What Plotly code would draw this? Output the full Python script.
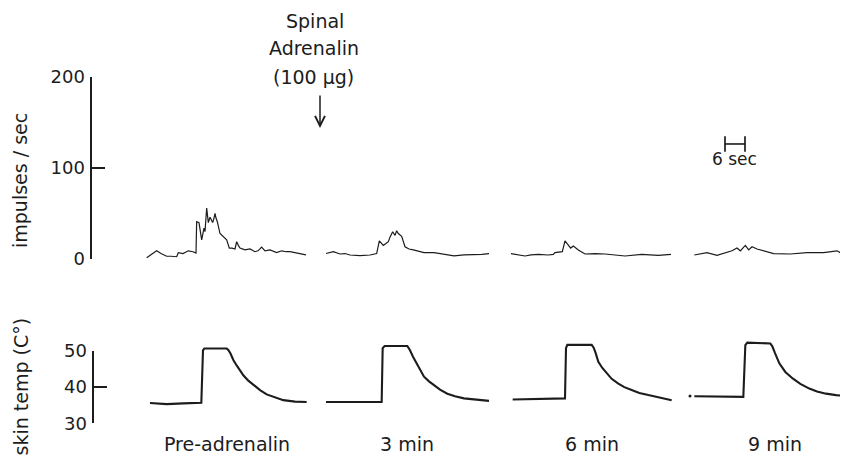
import plotly.graph_objects as go

# ---------------- data ----------------
SEGMENT_LABELS = ["Pre-adrenalin", "3 min", "6 min", "9 min"]
SEGMENT_START_S = [0.0, 54.0, 109.5, 164.5]   # recording start of each sweep (s)

# impulses / sec, time in s from the start of each sweep
imp_t_pre = [0.2, 1.5, 3.2, 4.5, 6.2, 7.5, 9.2, 9.7, 11.1, 12.7, 14.1, 15.0, 15.2, 15.9,
             16.7, 17.4, 17.7, 18.2, 18.5, 18.7, 19.2, 19.6, 20.0, 20.4, 20.7, 21.0, 21.4,
             22.2, 23.2, 24.2, 25.0, 25.8, 26.7, 27.2, 27.7, 28.2, 29.7, 31.2, 32.7, 33.6,
             34.7, 35.7, 37.2, 39.2, 40.7, 42.0, 43.2, 45.6, 48.0]
imp_v_pre = [1.5, 5, 9, 6, 3, 3, 2.5, 7, 6, 9, 8, 6.5, 41, 40,
             21, 34, 30, 56, 48, 40, 46, 43, 40, 45, 50, 45, 41,
             28, 24, 21, 12, 12, 11, 19, 15, 12, 10, 11, 8, 9,
             13, 9, 10, 7, 9, 8, 8, 6, 4.5]

imp_t_3 = [0, 2.2, 4.2, 5.7, 7.2, 10.2, 13.2, 15.2, 16.0, 17.2, 18.0, 18.7, 19.2, 20.0,
           20.7, 21.2, 21.7, 22.7, 23.7, 24.9, 26.2, 27.6, 29.4, 32.4, 35.4, 38.4, 41.4,
           44.4, 46.8, 48.9]
imp_v_3 = [6, 8, 5.5, 6, 4.4, 3.6, 4.4, 6, 20, 15, 17, 19, 24, 30,
           26, 31, 28, 25, 13.5, 11, 10, 9, 7, 7, 5, 3.5, 4.5,
           4.4, 5, 6]

imp_t_6 = [0, 2.2, 4.2, 6.0, 8.2, 11.2, 12.7, 13.2, 15.4, 16.2, 17.2, 17.9, 18.7, 20.2,
           22.2, 25.2, 28.2, 31.2, 34.2, 39.2, 42.0, 44.2, 48.0]
imp_v_6 = [6, 4.4, 3.3, 4.5, 5, 4.4, 5, 7, 8, 20, 15, 12, 14.3, 10,
           5.5, 6, 5.5, 4, 3.3, 5, 4.5, 4, 5]

imp_t_9 = [0, 3.8, 6.8, 9.8, 11.3, 12.8, 13.8, 15.3, 16.3, 17.3, 18.8, 23.8, 28.8,
           33.8, 38.8, 42.8, 43.8, 46.0]
imp_v_9 = [4.4, 7, 4, 7, 9, 12, 9, 15, 10, 13.5, 11, 6, 5.5,
           7, 7, 9, 7, 8]

# skin temperature (deg C), time in s from the start of each sweep
temp_t_pre = [1.2, 6.2, 11.2, 16.6, 17.1, 17.5, 24.2, 24.75, 25.35, 26.2, 27.2, 28.2, 29.2,
              30.7, 32.2, 34.2, 36.2, 38.7, 41.2, 44.7, 48.2]
temp_v_pre = [35.6, 35.3, 35.5, 35.7, 50.2, 50.7, 50.7, 50.2, 49.3, 47.5, 46.0, 44.7, 43.3,
              41.8, 40.6, 39.2, 38.0, 37.1, 36.4, 36.0, 35.9]

temp_t_3 = [0, 10, 16.7, 17.0, 17.6, 24.4, 25.2, 26.1, 27.2, 28.2, 29.4, 30.9, 32.4, 34.2,
            36.4, 38.7, 41.4, 45.0, 48.9]
temp_v_3 = [35.9, 35.9, 35.9, 50.8, 51.4, 51.4, 50.2, 48.4, 46.6, 44.8, 42.9, 41.6, 40.6, 39.3,
            38.2, 37.5, 36.9, 36.5, 36.2]

temp_t_6 = [0.5, 8.0, 16.2, 16.5, 16.9, 24.2, 24.8, 25.4, 26.2, 27.4, 28.7, 30.2, 32.2, 34.0,
            36.2, 38.5, 41.2, 44.5, 48.2]
temp_v_6 = [36.6, 36.7, 36.9, 50.8, 51.7, 51.7, 50.9, 49.4, 47.0, 45.3, 43.8, 42.3, 41.0, 40.0,
            39.2, 38.4, 37.8, 37.2, 36.4]

temp_t_9 = [0, 7.0, 14.7, 15.3, 15.9, 22.8, 23.4, 24.2, 25.5, 27.3, 29.5, 31.8, 34.5, 36.8,
            39.5, 42.5, 46.0]
temp_v_9 = [37.5, 37.4, 37.3, 51.6, 52.3, 52.1, 51.3, 49.4, 46.6, 44.2, 42.4, 40.9, 39.6, 38.8,
            38.2, 37.8, 37.5]
temp_speck_t_9 = [-1.3]      # isolated ink dot before the 9 min sweep
temp_speck_v_9 = [37.55]

IMP_TICKS = [0, 100, 200]
TEMP_TICKS = [30, 40, 50]
SCALE_BAR_S = 6

# ---------------- styling / layout ----------------
INK = "#1c1c1c"
FONT = "DejaVu Sans"
BODY = 8                       # page body margin of the html page
FW, FH = 848 - 2 * BODY, 466 - 2 * BODY


def paper_x(rx):
    return (rx - BODY) / FW


def paper_y(ry):
    return 1 - (ry - BODY) / FH


impulse_segments = [(imp_t_pre, imp_v_pre), (imp_t_3, imp_v_3),
                    (imp_t_6, imp_v_6), (imp_t_9, imp_v_9)]
temp_segments = [(temp_t_pre, temp_v_pre), (temp_t_3, temp_v_3),
                 (temp_t_6, temp_v_6), (temp_t_9, temp_v_9)]

fig = go.Figure()

for start, (t, v) in zip(SEGMENT_START_S, impulse_segments):
    fig.add_trace(go.Scatter(x=[start + s for s in t], y=v, mode="lines",
                             line=dict(color=INK, width=1.2), yaxis="y",
                             hoverinfo="skip", showlegend=False))

for start, (t, v) in zip(SEGMENT_START_S, temp_segments):
    fig.add_trace(go.Scatter(x=[start + s for s in t], y=v, mode="lines",
                             line=dict(color=INK, width=2.1), yaxis="y3",
                             hoverinfo="skip", showlegend=False))

fig.add_trace(go.Scatter(x=[SEGMENT_START_S[3] + s for s in temp_speck_t_9], y=temp_speck_v_9,
                         mode="markers", marker=dict(color=INK, size=3), yaxis="y3",
                         hoverinfo="skip", showlegend=False))

# register the temperature display axis
fig.add_trace(go.Scatter(x=[None], y=[None], yaxis="y2", mode="lines",
                         hoverinfo="skip", showlegend=False))

# 6 s scale bar
bar_x0 = 173.7
bar_y = 126.4
fig.add_trace(go.Scatter(x=[bar_x0, bar_x0 + SCALE_BAR_S], y=[bar_y, bar_y],
                         mode="lines+markers", yaxis="y",
                         line=dict(color=INK, width=1.6),
                         marker=dict(symbol="line-ns", size=11,
                                     line=dict(color=INK, width=1.7)),
                         hoverinfo="skip", showlegend=False))

px_per_s = 10 / 3.0
t0_px = 146
x_lo = (BODY - t0_px) / px_per_s
x_hi = (BODY + FW - t0_px) / px_per_s

axis_common = dict(ticks="inside", ticklen=13, tickwidth=2, tickcolor=INK,
                   showline=True, linewidth=2, linecolor=INK, showgrid=False,
                   zeroline=False, anchor="free", automargin=False,
                   tickfont=dict(family=FONT, size=18, color=INK),
                   ticklabelstandoff=1)

fig.update_layout(
    width=FW, height=FH,
    margin=dict(l=0, r=0, t=0, b=0, pad=0, autoexpand=False),
    paper_bgcolor="white", plot_bgcolor="rgba(0,0,0,0)",
    showlegend=False,
    xaxis=dict(domain=[0, 1], range=[x_lo, x_hi], visible=False, anchor="y",
               automargin=False),
    yaxis=dict(domain=[paper_y(259), paper_y(77)], range=[0, 200],
               tickvals=IMP_TICKS, position=paper_x(90.5), **axis_common),
    yaxis2=dict(domain=[paper_y(423.3), paper_y(351)], range=[30, 50],
                tickvals=TEMP_TICKS, position=paper_x(92.5), **axis_common),
    yaxis3=dict(domain=[0, 1],
                range=[50 - (BODY + FH - 351) / 3.615, 50 + (351 - BODY) / 3.615],
                visible=False, anchor="x", automargin=False),
)

title_font = dict(family=FONT, size=19, color=INK)
ann_font = dict(family=FONT, size=19, color=INK)
annotations = [
    dict(text="impulses / sec", x=paper_x(20), y=paper_y(181), textangle=-90, font=title_font),
    dict(text="skin temp (C°)", x=paper_x(20.5), y=paper_y(387), textangle=-90, font=title_font),
    dict(text="Spinal", x=paper_x(315), y=paper_y(21), font=ann_font),
    dict(text="Adrenalin", x=paper_x(313.5), y=paper_y(48), font=ann_font),
    dict(text="(100 μg)", x=paper_x(313), y=paper_y(77), font=ann_font),
    dict(text="6 sec", xref="x", x=bar_x0 + 2.9, y=paper_y(158.5),
         font=dict(family=FONT, size=17, color=INK)),
]
for a in annotations:
    a.setdefault("xref", "paper")
    a["yref"] = "paper"
    a["showarrow"] = False
    a["xanchor"] = "center"
    a["yanchor"] = "middle"

# arrow marking the injection
annotations.append(dict(xref="paper", yref="paper", x=paper_x(320), y=paper_y(128),
                        ax=0, ay=-34, text="", showarrow=True, arrowhead=5,
                        arrowsize=1.3, arrowwidth=1.5, arrowcolor=INK))

for start, label in zip(SEGMENT_START_S, SEGMENT_LABELS):
    annotations.append(dict(text=label, xref="x", yref="paper", x=start + 24.3,
                            y=paper_y(458), showarrow=False, xanchor="center",
                            yanchor="bottom", yshift=1, font=ann_font))

fig.update_layout(annotations=annotations)

fig.write_html("out.html")
